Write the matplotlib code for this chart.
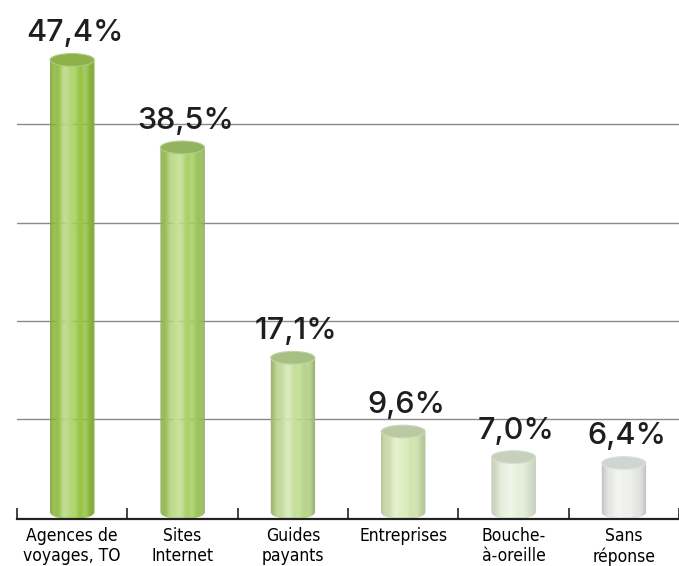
import matplotlib
matplotlib.use("Agg")
import matplotlib.pyplot as plt
import numpy as np
from matplotlib.colors import to_rgb
from matplotlib.patches import Ellipse

categories = ["Agences de\nvoyages, TO", "Sites\nInternet", "Guides\npayants",
              "Entreprises", "Bouche-\nà-oreille", "Sans\nréponse"]
values = [47.4, 38.5, 17.1, 9.6, 7.0, 6.4]
labels = ["47,4%", "38,5%", "17,1%", "9,6%", "7,0%", "6,4%"]

body_colors = ["#98c845", "#a8d062", "#bddb8c", "#d4e7b0", "#e5efd8", "#eceeea"]
top_colors = ["#8db24a", "#93b45f", "#a6bf82", "#b9c9a2", "#c6d0ba", "#d1d5d1"]


def mix(c1, c2, t):
    c1, c2 = np.array(to_rgb(c1)), np.array(to_rgb(c2))
    return np.clip(c1 * (1 - t) + c2 * t, 0, 1)


fig = plt.figure(figsize=(6.79, 5.66), dpi=100)
ax = fig.add_axes([17 / 679, 47 / 566, 662 / 679, 519 / 566])
ax.set_xlim(-0.5, -0.5 + 662 / 112)
ymin, ymax = 0.7, 53.5
ax.set_ylim(ymin, ymax)

# grid
for g in [10.85, 20.85, 30.85, 40.85]:
    ax.axhline(g, color="#8a8a8a", lw=1, zorder=1)

w = 0.40
eh = 1.3  # ellipse height in data units
nstrip = 40
for i, (v, bc, tc) in enumerate(zip(values, body_colors, top_colors)):
    cy = ymin + eh / 2
    xs = np.linspace(i - w / 2, i + w / 2, nstrip + 1)
    for k in range(nstrip):
        t = (k + 0.5) / nstrip
        edge = (abs(t - 0.5) * 2) ** 3
        hl = np.exp(-((t - 0.38) / 0.16) ** 2)
        col = mix(bc, "#ffffff", 0.35 * hl)
        col = mix(col, "#000000", 0.18 * edge)
        xa, xb = xs[k], xs[k + 1] + 0.002
        ua = np.clip(2 * (xa - i) / w, -1, 1)
        ub = np.clip(2 * (xb - i) / w, -1, 1)
        ya = cy - eh / 2 * np.sqrt(1 - ua ** 2)
        yb = cy - eh / 2 * np.sqrt(1 - ub ** 2)
        ax.fill([xa, xb, xb, xa], [ya, yb, v, v], color=col, lw=0, zorder=2)
    ax.add_patch(Ellipse((i, v), w, eh, facecolor=tc,
                         edgecolor=mix(tc, "#ffffff", 0.3), lw=0.8, zorder=3))
    ax.annotate(labels[i], (i, v), xytext=(2, 9), textcoords="offset points",
                ha="center", va="bottom", fontsize=22, color="#1e1e1e",
                family=["Inter", "DejaVu Sans"], fontweight="medium", zorder=4)

for s in ["top", "right", "left"]:
    ax.spines[s].set_visible(False)
ax.spines["bottom"].set_color("#222222")
ax.spines["bottom"].set_linewidth(1.6)
ax.set_yticks([])

ax.set_xticks(range(len(categories)))
ax.set_xticklabels(categories, fontsize=12.5, color="#000000",
                   family="DejaVu Sans", fontstretch="condensed",
                   linespacing=1.15)
ax.tick_params(axis="x", which="major", length=0, pad=6)
ax.set_xticks(np.arange(-0.5, 6, 1), minor=True)
ax.tick_params(axis="x", which="minor", direction="in", length=8,
               width=1.2, color="#222222")

fig.savefig("out.png", dpi=100)
